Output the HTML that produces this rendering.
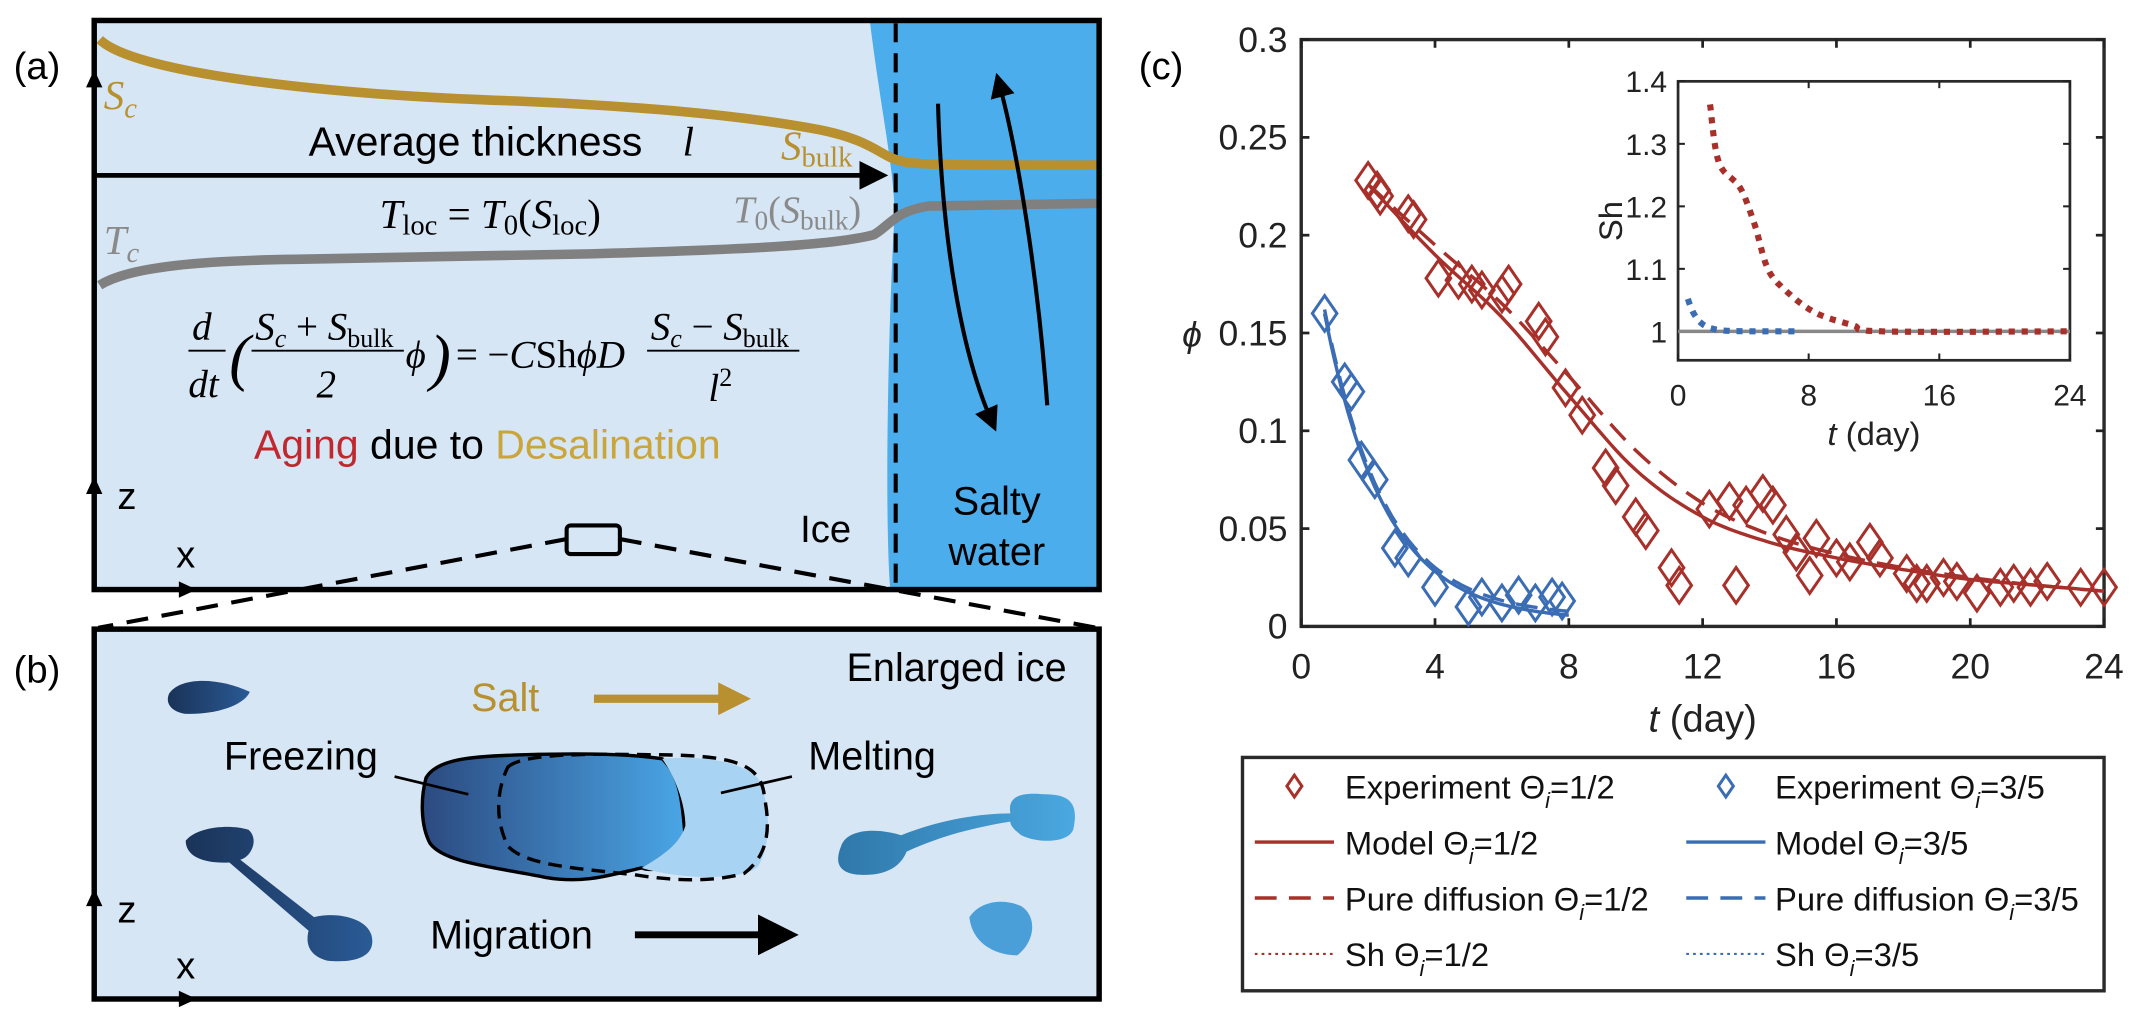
<!DOCTYPE html>
<html><head><meta charset="utf-8"><style>
html,body{margin:0;padding:0;background:#fff}
svg{display:block}
text{font-family:"Liberation Sans",sans-serif}
.s{font-family:"Liberation Serif",serif;font-style:italic}
</style></head><body>
<svg id="c" width="2130" height="1014" viewBox="0 0 1560 743" preserveAspectRatio="none" xmlns="http://www.w3.org/2000/svg">
<defs>
<linearGradient id="g1" x1="0" x2="1"><stop offset="0" stop-color="#2c4a80"/><stop offset="1" stop-color="#4aa6e6"/></linearGradient>
<linearGradient id="g2" x1="0" x2="1"><stop offset="0" stop-color="#1a3358"/><stop offset="1" stop-color="#2a5a95"/></linearGradient>
<linearGradient id="g3" x1="0" x2="1"><stop offset="0" stop-color="#2f78aa"/><stop offset="1" stop-color="#4aa8e0"/></linearGradient>
<marker id="ah" markerWidth="6" markerHeight="6" refX="3" refY="3" orient="auto" markerUnits="strokeWidth"><path d="M0,0 L6,3 L0,6 z" fill="#000"/></marker>
<marker id="ahg" markerWidth="4" markerHeight="4" refX="2" refY="2" orient="auto" markerUnits="strokeWidth"><path d="M0,0 L4,2 L0,4 z" fill="#b8902f"/></marker>
</defs>
<!-- Panel a -->
<text x="10" y="58" font-size="28">(a)</text>
<rect x="69" y="15" width="736" height="417" fill="#d6e6f5"/>
<path d="M637,15 C645,80 656,130 655,160 C650,250 648,380 652,432 L805,432 L805,15 Z" fill="#4badeb"/>
<line x1="656" y1="17" x2="656" y2="430" stroke="#000" stroke-width="3" stroke-dasharray="14,8"/>
<path d="M73,29 C100,55 250,70 378,74 C470,78 540,84 600,95 C640,103 645,115 660,118 C670,121 700,121 803,121" fill="none" stroke="#b8902f" stroke-width="7"/>
<path d="M73,209 C95,195 150,191 216,190 L432,186 C540,183 610,180 640,172 C652,165 655,155 680,151 L803,149" fill="none" stroke="#808080" stroke-width="7"/>
<line x1="69" y1="128.5" x2="640" y2="128.5" stroke="#000" stroke-width="3.5" marker-end="url(#ah)"/>
<path d="M767,297 C760,200 745,110 732,62" fill="none" stroke="#000" stroke-width="3" marker-end="url(#ah)"/>
<path d="M687,76 C690,180 705,260 726,308" fill="none" stroke="#000" stroke-width="3" marker-end="url(#ah)"/>
<rect x="69" y="15" width="736" height="417" fill="none" stroke="#000" stroke-width="4"/>
<path d="M63,64 L69,51 L75,64 Z M63,362 L69,349 L75,362 Z M131,426 L144,432 L131,438 Z"/>
<text x="76" y="80" font-size="30" fill="#b8902f" class="s">S<tspan font-size="21" dy="6">c</tspan></text>
<text x="226" y="114" font-size="30">Average thickness</text>
<text x="500" y="114" font-size="30" class="s">l</text>
<text x="572" y="117" font-size="30" fill="#b8902f" class="s">S<tspan font-size="21" dy="5" font-style="normal">bulk</tspan></text>
<text x="278" y="167" font-size="30" class="s">T<tspan font-size="21" dy="5" font-style="normal">loc</tspan><tspan dy="-5" font-style="normal"> = </tspan>T<tspan font-size="21" dy="5" font-style="normal">0</tspan><tspan dy="-5" font-style="normal">(</tspan>S<tspan font-size="21" dy="5" font-style="normal">loc</tspan><tspan dy="-5" font-style="normal">)</tspan></text>
<text x="537" y="163" font-size="28" fill="#8a8a8a" class="s">T<tspan font-size="20" dy="5" font-style="normal">0</tspan><tspan dy="-5" font-style="normal">(</tspan>S<tspan font-size="20" dy="5" font-style="normal">bulk</tspan><tspan dy="-5" font-style="normal">)</tspan></text>
<text x="76" y="186" font-size="30" fill="#8a8a8a" class="s">T<tspan font-size="21" dy="6">c</tspan></text>
<g font-size="21" transform="translate(138,257) scale(1.36) translate(-184,-247)">
<text x="186" y="241" class="s">d</text><line x1="184" y1="247" x2="204" y2="247" stroke="#000" stroke-width="1"/><text x="184" y="272" class="s">dt</text>
<text x="206" y="262" font-size="34" font-style="normal" class="s">(</text>
<text x="220" y="241" class="s">S<tspan font-size="14" dy="4">c</tspan><tspan dy="-4" font-style="normal"> + </tspan>S<tspan font-size="14" dy="4" font-style="normal">bulk</tspan></text>
<line x1="218" y1="247" x2="300" y2="247" stroke="#000" stroke-width="1"/><text x="253" y="272" font-style="normal" class="s">2</text>
<text x="301" y="256" class="s">ϕ</text><text x="314" y="262" font-size="34" font-style="normal" class="s">)</text>
<text x="328" y="256" class="s"><tspan font-style="normal">= −</tspan>C<tspan font-style="normal">Sh</tspan>ϕD</text>
<text x="433" y="241" class="s">S<tspan font-size="14" dy="4">c</tspan><tspan dy="-4" font-style="normal"> − </tspan>S<tspan font-size="14" dy="4" font-style="normal">bulk</tspan></text>
<line x1="431" y1="247" x2="513" y2="247" stroke="#000" stroke-width="1"/><text x="464" y="274" class="s">l<tspan font-size="14" dy="-8" font-style="normal">2</tspan></text>
</g>
<text x="186" y="336" font-size="30"><tspan fill="#c0282d">Aging</tspan> due to <tspan fill="#c9a53a">Desalination</tspan></text>
<text x="86" y="373" font-size="28">z</text>
<text x="129" y="416" font-size="28">x</text>
<text x="586" y="397" font-size="28">Ice</text>
<text x="730" y="377" font-size="29" text-anchor="middle">Salty</text>
<text x="730" y="414" font-size="29" text-anchor="middle">water</text>
<rect x="415" y="385" width="39" height="21" rx="3" fill="none" stroke="#000" stroke-width="3"/>
<line x1="415" y1="395" x2="72" y2="460" stroke="#000" stroke-width="3" stroke-dasharray="16,10"/>
<line x1="454" y1="395" x2="803" y2="460" stroke="#000" stroke-width="3" stroke-dasharray="16,10"/>
<!-- Panel b -->
<text x="10" y="500" font-size="28">(b)</text>
<rect x="69" y="461" width="736" height="271" fill="#d6e6f5" stroke="#000" stroke-width="4"/>
<path d="M63,664 L69,651 L75,664 Z M131,726 L144,732 L131,738 Z"/>
<text x="86" y="676" font-size="28">z</text>
<text x="129" y="717" font-size="28">x</text>
<text x="620" y="499" font-size="29">Enlarged ice</text>
<text x="345" y="521" font-size="29" fill="#b8902f">Salt</text>
<line x1="435" y1="512" x2="538" y2="512" stroke="#b8902f" stroke-width="6" marker-end="url(#ahg)"/>
<path d="M124,508 C132,496 160,496 183,507 C178,518 155,524 135,523 C124,521 121,514 124,508Z" fill="url(#g2)"/>
<path d="M136,616 C145,605 170,604 182,608 C190,615 184,628 176,630 L230,672 C245,668 268,672 272,685 C276,700 262,706 240,704 C225,700 224,690 226,682 L168,632 C150,633 136,628 136,616Z" fill="url(#g2)"/>
<path d="M312,570 C320,556 345,554 385,553 C420,552 460,552 485,556 C500,570 500,595 502,615 C496,633 480,640 470,636 C450,640 430,648 400,643 C360,635 325,632 315,618 C308,605 308,585 312,570Z" fill="url(#g1)" stroke="#000" stroke-width="2.5"/>
<path d="M485,556 C510,554 540,556 555,570 C565,590 565,620 555,635 C545,645 500,645 470,636 C480,630 498,620 502,605 C502,590 495,570 485,556Z" fill="#a9d3f2"/>
<path d="M372,562 C382,553 420,552 475,553 C540,553 558,560 560,585 C566,615 558,630 545,640 C520,647 490,645 465,641 C420,636 385,634 372,620 C362,600 364,578 372,562Z" fill="none" stroke="#000" stroke-width="2.5" stroke-dasharray="10,6"/>
<text x="164" y="564" font-size="29">Freezing</text>
<line x1="289" y1="569" x2="343" y2="582" stroke="#000" stroke-width="2"/>
<text x="592" y="564" font-size="29">Melting</text>
<line x1="580" y1="569" x2="528" y2="581" stroke="#000" stroke-width="2"/>
<path d="M616,620 C620,608 640,606 660,612 C690,600 720,596 740,596 C738,585 745,580 765,582 C785,582 790,590 786,608 C782,618 760,618 748,612 C740,606 740,603 740,602 C715,606 690,612 664,624 C660,634 650,642 630,641 C612,640 612,630 616,620Z" fill="url(#g3)"/>
<path d="M710,672 C718,660 735,658 748,664 C760,672 758,690 745,700 C730,700 712,692 710,672Z" fill="#4a9fd8"/>
<text x="315" y="695" font-size="29">Migration</text>
<line x1="465" y1="685" x2="570" y2="685" stroke="#000" stroke-width="5" marker-end="url(#ah)"/>
<!-- Panel c -->
<text x="834" y="58" font-size="28">(c)</text>
<g id="chart"></g>
</svg>
<script>
var NS="http://www.w3.org/2000/svg",G=document.getElementById("chart");
function el(t,a,txt){var e=document.createElementNS(NS,t);for(var k in a)e.setAttribute(k,a[k]);if(txt!==undefined)e.textContent=txt;G.appendChild(e);return e;}
var X0=953,X1=1541,Y0=459,Y1=29;
function X(t){return X0+(X1-X0)*t/24}function Y(p){return Y0-(Y0-Y1)*p/0.3}
var R="#a8302a",B="#3b6db5";
el("rect",{x:X0,y:Y1,width:X1-X0,height:Y0-Y1,fill:"#fff",stroke:"#2a2a2a","stroke-width":2.5});
for(var i=0;i<=6;i++){var x=X(i*4);el("line",{x1:x,y1:Y0,x2:x,y2:Y0-6,stroke:"#222","stroke-width":2});el("line",{x1:x,y1:Y1,x2:x,y2:Y1+6,stroke:"#222","stroke-width":2});el("text",{x:x,y:Y0+38,"font-size":26,"text-anchor":"middle",fill:"#222"},""+i*4);}
for(var i=0;i<=6;i++){var p=i*0.05,y=Y(p);el("line",{x1:X0,y1:y,x2:X0+6,y2:y,stroke:"#222","stroke-width":2});el("line",{x1:X1,y1:y,x2:X1-6,y2:y,stroke:"#222","stroke-width":2});el("text",{x:X0-10,y:y+9,"font-size":26,"text-anchor":"end",fill:"#222"},i==0?"0":(+p.toFixed(2)).toString());}
el("text",{x:X(12),y:Y0+77,"font-size":28,"text-anchor":"middle",fill:"#222"},"").innerHTML='<tspan font-style="italic">t</tspan> (day)';
el("text",{x:873,y:254,"font-size":26,"font-style":"italic","text-anchor":"middle",fill:"#222"},"ϕ");
function path(pts,opt){var d="";pts.forEach(function(p,i){d+=(i?"L":"M")+X(p[0]).toFixed(1)+","+Y(p[1]).toFixed(1)});opt.d=d;opt.fill="none";return el("path",opt);}
function curve(f,a,b){var r=[];for(var t=a;t<=b+1e-9;t+=0.1)r.push([t,f(t)]);return r;}
var mr=[[2,.226],[4,.19],[6,.158],[8,.118],[10,.08],[12,.056],[14,.043],[16,.035],[18,.029],[20,.024],[22,.021],[24,.018]];
var dr=[[2,.226],[4,.195],[6,.165],[8,.128],[10,.09],[12,.063],[14,.047],[16,.037],[18,.03],[20,.025],[22,.021],[24,.018]];
function smooth(arr){var r=[];for(var i=0;i<arr.length-1;i++){for(var s=0;s<10;s++){var u=s/10,p0=arr[Math.max(i-1,0)],p1=arr[i],p2=arr[i+1],p3=arr[Math.min(i+2,arr.length-1)];var cr=function(k){return 0.5*((2*p1[k])+(-p0[k]+p2[k])*u+(2*p0[k]-5*p1[k]+4*p2[k]-p3[k])*u*u+(-p0[k]+3*p1[k]-3*p2[k]+p3[k])*u*u*u)};r.push([cr(0),cr(1)]);}}r.push(arr[arr.length-1]);return r;}
path(smooth(mr),{stroke:R,"stroke-width":2.5});
path(smooth(dr),{stroke:R,"stroke-width":2.5,"stroke-dasharray":"16,9"});
var fb=function(t){return 0.003+0.157*Math.exp(-(t-0.7)/1.8)};
path(curve(fb,0.7,8),{stroke:B,"stroke-width":2.5});
path(curve(function(t){return fb(t)+0.002},0.7,8),{stroke:B,"stroke-width":2.5,"stroke-dasharray":"16,9"});
function dia(x,y,c,s){s=s||9;el("path",{d:"M"+x+","+(y-s*1.45)+"L"+(x+s)+","+y+"L"+x+","+(y+s*1.45)+"L"+(x-s)+","+y+"Z",fill:"none",stroke:c,"stroke-width":2.2});}
var rd=[[2,.228],[2.27,.223],[2.36,.22],[3.2,.211],[3.36,.208],[4.1,.178],[4.7,.177],[5.1,.175],[5.4,.172],[6.2,.175],[6,.17],[7.1,.156],[7.3,.148],[7.9,.122],[8.4,.108],[9.1,.081],[9.4,.072],[10,.056],[10.3,.049],[11.07,.03],[11.3,.021],[13,.021],[12.2,.06],[12.8,.064],[13.3,.062],[13.8,.068],[14.1,.062],[14.5,.047],[14.8,.038],[15.2,.026],[15.4,.045],[16,.035],[16.4,.033],[17,.043],[17.3,.035],[18.1,.027],[18.4,.022],[18.7,.022],[19.2,.025],[19.6,.023],[20.2,.017],[20.9,.02],[21.3,.022],[21.8,.02],[22.3,.023],[23.3,.02],[24,.02]];
rd.forEach(function(p){dia(X(p[0]),Y(p[1]),R)});
var bd=[[0.7,.16],[1.3,.125],[1.5,.12],[1.8,.085],[2.2,.075],[2.8,.04],[3.2,.035],[4,.02],[5,.01],[5.4,.015],[6,.012],[6.5,.016],[7,.012],[7.5,.015],[7.8,.013]];
bd.forEach(function(p){dia(X(p[0]),Y(p[1]),B)});
// inset
var IX0=1229,IX1=1516;function ix(t){return IX0+(IX1-IX0)*t/24}function iy(s){return 242.8-(s-1)*458}
el("rect",{x:IX0,y:iy(1.4),width:IX1-IX0,height:264-iy(1.4),fill:"#fff",stroke:"#2a2a2a","stroke-width":2});
var IYB=264;
for(var i=0;i<=3;i++){var x=ix(i*8);el("line",{x1:x,y1:IYB,x2:x,y2:IYB-5,stroke:"#222","stroke-width":1.5});el("line",{x1:x,y1:iy(1.4),x2:x,y2:iy(1.4)+5,stroke:"#222","stroke-width":1.5});el("text",{x:x,y:IYB+33,"font-size":22,"text-anchor":"middle",fill:"#222"},""+i*8);}
["1","1.1","1.2","1.3","1.4"].forEach(function(s,i){var y=iy(1+i*0.1);el("line",{x1:IX0,y1:y,x2:IX0+5,y2:y,stroke:"#222","stroke-width":1.5});el("line",{x1:IX1,y1:y,x2:IX1-5,y2:y,stroke:"#222","stroke-width":1.5});el("text",{x:IX0-8,y:y+8,"font-size":22,"text-anchor":"end",fill:"#222"},s);});
el("text",{x:ix(12),y:IYB+62,"font-size":24,"text-anchor":"middle",fill:"#222"},"").innerHTML='<tspan font-style="italic">t</tspan> (day)';
el("text",{x:0,y:0,"font-size":24,"text-anchor":"middle",fill:"#222",transform:"translate(1188,162) rotate(-90)"},"Sh");
el("line",{x1:IX0,y1:iy(1),x2:IX1,y2:iy(1),stroke:"#888","stroke-width":2.5});
var shr=smooth([[1.96,1.363],[2.5,1.27],[3.8,1.23],[4.7,1.17],[5.5,1.1],[6.6,1.065],[8.4,1.03],[10.7,1.01],[12.5,1.0],[24,1.0]]);
el("path",{d:"M"+shr.map(function(p){return ix(p[0]).toFixed(1)+","+iy(p[1]).toFixed(1)}).join("L"),fill:"none",stroke:R,"stroke-width":4.5,"stroke-dasharray":"4.5,5"});
var ipb=[];for(var t=0.6;t<=7.5;t+=0.1)ipb.push([ix(t),iy(1+0.052*Math.exp(-(t-0.6)/0.6))]);
el("path",{d:"M"+ipb.map(function(p){return p[0].toFixed(1)+","+p[1].toFixed(1)}).join("L"),fill:"none",stroke:B,"stroke-width":4.5,"stroke-dasharray":"4.5,5"});
// legend
el("rect",{x:910,y:555,width:631,height:171,fill:"#fff",stroke:"#2a2a2a","stroke-width":2.5});
var rows=[576,617,658,699];
function lab(x,y,a,b){el("text",{x:x,y:y+9,"font-size":24,fill:"#111"},"").innerHTML=a+' Θ<tspan font-size="16" dy="7" font-style="italic">i</tspan><tspan dy="-7">='+b+'</tspan>';}
[[R,919,948,985,"1/2"],[B,1235,1264,1300,"3/5"]].forEach(function(c){
 var col=c[0];
 dia(c[2],rows[0],col,5.5);
 el("line",{x1:c[1],y1:rows[1],x2:c[1]+58,y2:rows[1],stroke:col,"stroke-width":2.5});
 el("line",{x1:c[1],y1:rows[2],x2:c[1]+58,y2:rows[2],stroke:col,"stroke-width":2.5,"stroke-dasharray":"16,9"});
 el("line",{x1:c[1],y1:rows[3],x2:c[1]+58,y2:rows[3],stroke:col,"stroke-width":1.5,"stroke-dasharray":"2,3"});
 var tx=c[3];
 lab(tx,rows[0],"Experiment",c[4]);lab(tx,rows[1],"Model",c[4]);lab(tx,rows[2],"Pure diffusion",c[4]);lab(tx,rows[3],"Sh",c[4]);
});
</script>
</body></html>
